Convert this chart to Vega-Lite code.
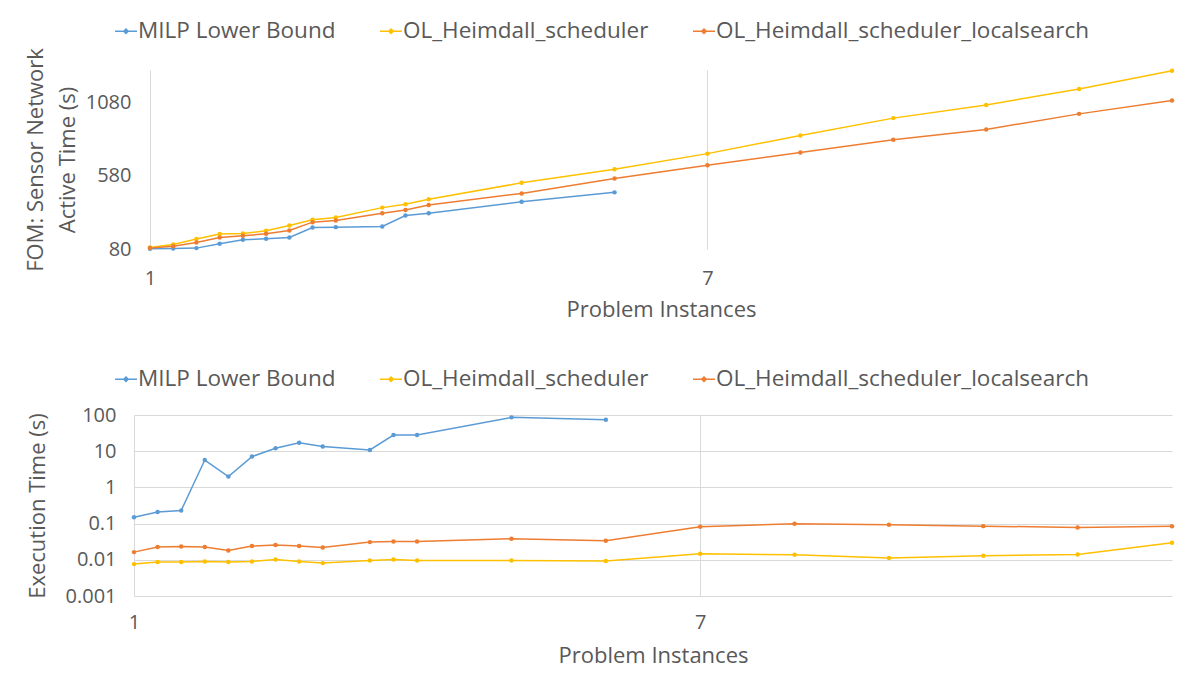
{
  "$schema": "https://vega.github.io/schema/vega-lite/v6.json",
  "background": "white",
  "padding": {"left": 24, "top": 19, "right": 0, "bottom": 8},
  "config": {
    "font": "Open Sans",
    "view": {"stroke": null},
    "axis": {
      "labelFont": "Open Sans", "labelFontSize": 20, "labelColor": "#595959",
      "titleFont": "Open Sans", "titleFontSize": 22, "titleFontWeight": "normal", "titleColor": "#595959",
      "domain": false, "ticks": false, "gridColor": "#D9D9D9", "gridWidth": 1,
      "labelFlush": false, "labelOverlap": false
    },
    "legend": {
      "orient": "none", "direction": "horizontal", "title": null,
      "labelFont": "Open Sans", "labelFontSize": 22.5, "labelColor": "#595959", "labelLimit": 1000,
      "symbolType": "M-1,0H1M0,-0.2L0.2,0L0,0.2L-0.2,0Z",
      "symbolSize": 484, "symbolStrokeWidth": 1.5, "labelOffset": 0, "columnPadding": 41, "padding": 0
    }
  },
  "datasets": {
    "d": [
      {"instance": 1, "series": "MILP Lower Bound", "fom": 82, "time": 0.15},
      {"instance": 1.25, "series": "MILP Lower Bound", "fom": 83, "time": 0.21},
      {"instance": 1.5, "series": "MILP Lower Bound", "fom": 86, "time": 0.23},
      {"instance": 1.75, "series": "MILP Lower Bound", "fom": 116, "time": 5.7},
      {"instance": 2, "series": "MILP Lower Bound", "fom": 143, "time": 2.0},
      {"instance": 2.25, "series": "MILP Lower Bound", "fom": 150, "time": 7.1},
      {"instance": 2.5, "series": "MILP Lower Bound", "fom": 159, "time": 12},
      {"instance": 2.75, "series": "MILP Lower Bound", "fom": 226, "time": 17},
      {"instance": 3, "series": "MILP Lower Bound", "fom": 229, "time": 13.4},
      {"instance": 3.5, "series": "MILP Lower Bound", "fom": 233, "time": 10.8},
      {"instance": 3.75, "series": "MILP Lower Bound", "fom": 308, "time": 28},
      {"instance": 4, "series": "MILP Lower Bound", "fom": 324, "time": 28},
      {"instance": 5, "series": "MILP Lower Bound", "fom": 402, "time": 86},
      {"instance": 6, "series": "MILP Lower Bound", "fom": 466, "time": 74},

      {"instance": 1, "series": "OL_Heimdall_scheduler", "fom": 91, "time": 0.0076},
      {"instance": 1.25, "series": "OL_Heimdall_scheduler", "fom": 111, "time": 0.0087},
      {"instance": 1.5, "series": "OL_Heimdall_scheduler", "fom": 148, "time": 0.0087},
      {"instance": 1.75, "series": "OL_Heimdall_scheduler", "fom": 182, "time": 0.009},
      {"instance": 2, "series": "OL_Heimdall_scheduler", "fom": 185, "time": 0.0087},
      {"instance": 2.25, "series": "OL_Heimdall_scheduler", "fom": 204, "time": 0.009},
      {"instance": 2.5, "series": "OL_Heimdall_scheduler", "fom": 240, "time": 0.0102},
      {"instance": 2.75, "series": "OL_Heimdall_scheduler", "fom": 279, "time": 0.009},
      {"instance": 3, "series": "OL_Heimdall_scheduler", "fom": 294, "time": 0.0081},
      {"instance": 3.5, "series": "OL_Heimdall_scheduler", "fom": 362, "time": 0.0096},
      {"instance": 3.75, "series": "OL_Heimdall_scheduler", "fom": 385, "time": 0.0102},
      {"instance": 4, "series": "OL_Heimdall_scheduler", "fom": 419, "time": 0.0096},
      {"instance": 5, "series": "OL_Heimdall_scheduler", "fom": 531, "time": 0.0096},
      {"instance": 6, "series": "OL_Heimdall_scheduler", "fom": 624, "time": 0.0092},
      {"instance": 7, "series": "OL_Heimdall_scheduler", "fom": 730, "time": 0.0147},
      {"instance": 8, "series": "OL_Heimdall_scheduler", "fom": 854, "time": 0.0138},
      {"instance": 9, "series": "OL_Heimdall_scheduler", "fom": 972, "time": 0.0112},
      {"instance": 10, "series": "OL_Heimdall_scheduler", "fom": 1062, "time": 0.0129},
      {"instance": 11, "series": "OL_Heimdall_scheduler", "fom": 1171, "time": 0.014},
      {"instance": 12, "series": "OL_Heimdall_scheduler", "fom": 1295, "time": 0.0295},

      {"instance": 1, "series": "OL_Heimdall_scheduler_localsearch", "fom": 87, "time": 0.0163},
      {"instance": 1.25, "series": "OL_Heimdall_scheduler_localsearch", "fom": 98, "time": 0.0225},
      {"instance": 1.5, "series": "OL_Heimdall_scheduler_localsearch", "fom": 125, "time": 0.0233},
      {"instance": 1.75, "series": "OL_Heimdall_scheduler_localsearch", "fom": 159, "time": 0.0225},
      {"instance": 2, "series": "OL_Heimdall_scheduler_localsearch", "fom": 170, "time": 0.0181},
      {"instance": 2.25, "series": "OL_Heimdall_scheduler_localsearch", "fom": 184, "time": 0.0239},
      {"instance": 2.5, "series": "OL_Heimdall_scheduler_localsearch", "fom": 206, "time": 0.0255},
      {"instance": 2.75, "series": "OL_Heimdall_scheduler_localsearch", "fom": 263, "time": 0.0239},
      {"instance": 3, "series": "OL_Heimdall_scheduler_localsearch", "fom": 274, "time": 0.0219},
      {"instance": 3.5, "series": "OL_Heimdall_scheduler_localsearch", "fom": 324, "time": 0.0308},
      {"instance": 3.75, "series": "OL_Heimdall_scheduler_localsearch", "fom": 346, "time": 0.032},
      {"instance": 4, "series": "OL_Heimdall_scheduler_localsearch", "fom": 380, "time": 0.032},
      {"instance": 5, "series": "OL_Heimdall_scheduler_localsearch", "fom": 459, "time": 0.038},
      {"instance": 6, "series": "OL_Heimdall_scheduler_localsearch", "fom": 561, "time": 0.0335},
      {"instance": 7, "series": "OL_Heimdall_scheduler_localsearch", "fom": 651, "time": 0.0815},
      {"instance": 8, "series": "OL_Heimdall_scheduler_localsearch", "fom": 737, "time": 0.0986},
      {"instance": 9, "series": "OL_Heimdall_scheduler_localsearch", "fom": 825, "time": 0.0925},
      {"instance": 10, "series": "OL_Heimdall_scheduler_localsearch", "fom": 895, "time": 0.0851},
      {"instance": 11, "series": "OL_Heimdall_scheduler_localsearch", "fom": 1001, "time": 0.078},
      {"instance": 12, "series": "OL_Heimdall_scheduler_localsearch", "fom": 1092, "time": 0.085}
    ]
  },
  "vconcat": [
    {
      "width": 1038,
      "height": 179,
      "layer": [
        {"mark": {"type": "rule", "color": "#D9D9D9", "strokeWidth": 1},
         "encoding": {"y": {"datum": 80}, "x": {"datum": 1}, "x2": {"datum": 12}}},
        {"mark": {"type": "rule", "color": "#D9D9D9", "strokeWidth": 1},
         "encoding": {"y": {"datum": 580}, "x": {"datum": 1}, "x2": {"datum": 12}}},
        {"mark": {"type": "rule", "color": "#D9D9D9", "strokeWidth": 1},
         "encoding": {"y": {"datum": 1080}, "x": {"datum": 1}, "x2": {"datum": 12}}},
        {
          "data": {"name": "d"},
          "encoding": {
            "x": {"field": "instance", "type": "quantitative",
                  "scale": {"domain": [0.828, 12], "nice": false, "zero": false},
                  "axis": {"values": [1, 7], "format": "d", "title": "Problem Instances", "titleX": 527,
                           "labelPadding": 19, "titlePadding": 11, "grid": true}},
            "y": {"field": "fom", "type": "quantitative",
                  "scale": {"domain": [80, 1300], "nice": false, "zero": false},
                  "axis": {"values": [80, 580, 1080], "format": "d", "title": ["FOM: Sensor Network", "Active Time (s)"],
                           "labelPadding": 3, "titlePadding": 6, "titleLineHeight": 32, "grid": false}},
            "color": {"field": "series", "type": "nominal",
                      "scale": {"domain": ["MILP Lower Bound", "OL_Heimdall_scheduler", "OL_Heimdall_scheduler_localsearch"],
                                "range": ["#5B9BD5", "#FFC000", "#ED7D31"]},
                      "legend": {"legendX": -20, "legendY": -51}}
          },
          "layer": [
            {"mark": {"type": "line", "strokeWidth": 1.5}},
            {"mark": {"type": "point", "filled": true, "size": 20, "opacity": 1}}
          ]
        }
      ]
    },
    {
      "width": 1038,
      "height": 181,
      "data": {"name": "d"},
      "encoding": {
        "x": {"field": "instance", "type": "quantitative",
              "scale": {"domain": [1, 12], "nice": false, "zero": false},
              "axis": {"values": [1, 7], "format": "d", "title": "Problem Instances", "labelPadding": 16, "titlePadding": 13, "grid": true}},
        "y": {"field": "time", "type": "quantitative",
              "scale": {"type": "log", "domain": [0.001, 100], "nice": false},
              "axis": {"values": [0.001, 0.01, 0.1, 1, 10, 100], "format": "~g", "title": "Execution Time (s)",
                       "labelPadding": 18, "titlePadding": 16, "grid": true}},
        "color": {"field": "series", "type": "nominal",
                  "scale": {"domain": ["MILP Lower Bound", "OL_Heimdall_scheduler", "OL_Heimdall_scheduler_localsearch"],
                            "range": ["#5B9BD5", "#FFC000", "#ED7D31"]},
                  "legend": {"legendX": -20, "legendY": -48}}
      },
      "layer": [
        {"mark": {"type": "line", "strokeWidth": 1.5}},
        {"mark": {"type": "point", "filled": true, "size": 20, "opacity": 1}}
      ]
    }
  ],
  "spacing": 47,
  "resolve": {"scale": {"color": "independent"}, "legend": {"color": "independent"}}
}
